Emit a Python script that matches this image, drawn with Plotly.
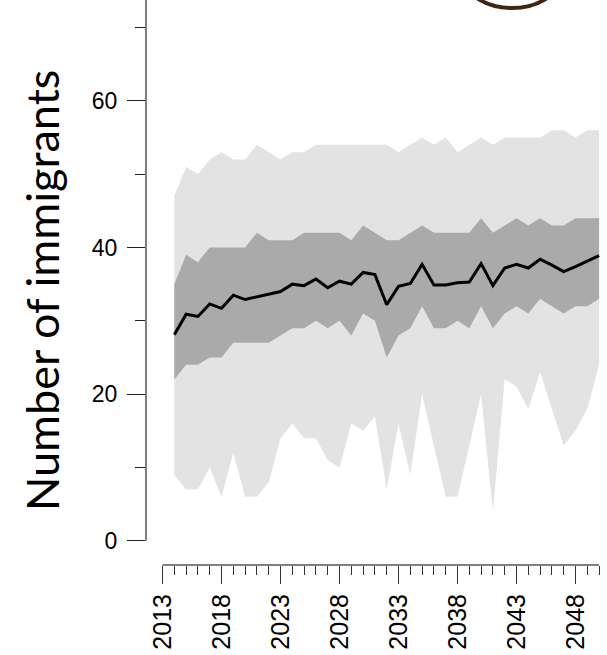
import plotly.graph_objects as go

years = list(range(2014, 2051))
median = [28.1, 30.9, 30.6, 32.3, 31.7, 33.5, 32.9, 33.3, 33.7, 34.0,
          35.0, 34.8, 35.7, 34.5, 35.4, 35.0, 36.6, 36.3, 32.2, 34.7,
          35.1, 37.7, 34.9, 34.9, 35.2, 35.3, 37.8, 34.8, 37.2, 37.7,
          37.2, 38.4, 37.6, 36.7, 37.4, 38.1, 38.9]
inner_upper = [35, 39, 38, 40, 40, 40, 40, 42, 41, 41,
               41, 42, 42, 42, 42, 41, 43, 42, 41, 41,
               42, 43, 42, 42, 42, 42, 44, 42, 43, 44,
               43, 44, 43, 43, 44, 44, 44]
inner_lower = [22, 24, 24, 25, 25, 27, 27, 27, 27, 28,
               29, 29, 30, 29, 30, 28, 31, 30, 25, 28,
               29, 32, 29, 29, 30, 29, 32, 29, 31, 32,
               31, 33, 32, 31, 32, 32, 33]
outer_upper = [47, 51, 50, 52, 53, 52, 52, 54, 53, 52,
               53, 53, 54, 54, 54, 54, 54, 54, 54, 53,
               54, 55, 54, 55, 53, 54, 55, 54, 55, 55,
               55, 55, 56, 56, 55, 56, 56]
outer_lower = [9, 7, 7, 10, 6, 12, 6, 6, 8, 14,
               16, 14, 14, 11, 10, 16, 15, 17, 7, 16,
               9, 20, 13, 6, 6, 13, 20, 4, 22, 21,
               18, 23, 18, 13, 15, 18, 24]

y_major = [0, 20, 40, 60]
y_minor = [10, 30, 50, 70]
x_major = list(range(2013, 2050, 5))
x_minor = list(range(2013, 2051))
y_title = "Number of immigrants"

fig = go.Figure()
fig.add_trace(go.Scatter(
    x=years + years[::-1], y=outer_upper + outer_lower[::-1],
    fill="toself", fillcolor="#e3e3e3", line=dict(width=0),
    mode="lines", hoverinfo="skip", showlegend=False))
fig.add_trace(go.Scatter(
    x=years + years[::-1], y=inner_upper + inner_lower[::-1],
    fill="toself", fillcolor="#aaaaaa", line=dict(width=0),
    mode="lines", hoverinfo="skip", showlegend=False))
fig.add_trace(go.Scatter(
    x=years, y=median, mode="lines",
    line=dict(color="black", width=3), showlegend=False))

fig.update_layout(
    width=607, height=655,
    margin=dict(l=146, r=0, t=0, b=90),
    paper_bgcolor="white", plot_bgcolor="white",
    xaxis=dict(range=[2011.6, 2050.67], showgrid=False, zeroline=False,
               showline=False, tickmode="array", tickvals=x_major,
               ticks="outside", ticklen=18, tickwidth=1, tickcolor="#333",
               tickangle=-90, ticklabelstandoff=0,
               tickfont=dict(family="Liberation Sans, Arial", size=25, color="black"),
               minor=dict(tickmode="array", tickvals=x_minor, ticks="outside",
                          ticklen=9, tickwidth=1, tickcolor="#333")),
    yaxis=dict(range=[-3.3, 73.75], showgrid=False, zeroline=False,
               showline=False, tickmode="array", tickvals=y_major,
               ticks="outside", ticklen=18, tickwidth=1, tickcolor="#222",
               ticklabelstandoff=5,
               tickfont=dict(family="Liberation Sans, Arial", size=23, color="black"),
               minor=dict(tickmode="array", tickvals=y_minor, ticks="outside",
                          ticklen=10, tickwidth=1, tickcolor="#222")),
    shapes=[
        dict(type="line", xref="x", yref="paper", x0=2013, x1=2050, y0=0, y1=0,
             line=dict(color="#555", width=1.5)),
        dict(type="line", xref="paper", yref="y", x0=0, x1=0, y0=0, y1=73.75,
             line=dict(color="#555", width=1.5)),
        dict(type="circle", xref="paper", yref="paper",
             x0=(467 - 146) / 461, x1=(557 - 146) / 461,
             y0=(565 - 8) / 565, y1=(565 + 46) / 565,
             line=dict(color="#3d2616", width=4)),
    ],
    annotations=[dict(text=y_title, textangle=-90, showarrow=False,
                      xref="paper", yref="paper",
                      x=(42 - 146) / 461, y=(565 - 291) / 565,
                      xanchor="center", yanchor="middle",
                      font=dict(family="Lato", size=45, color="black"))],
)

fig.write_html("out.html", config={"displayModeBar": False},
               post_script="document.body.style.margin='0px';")
